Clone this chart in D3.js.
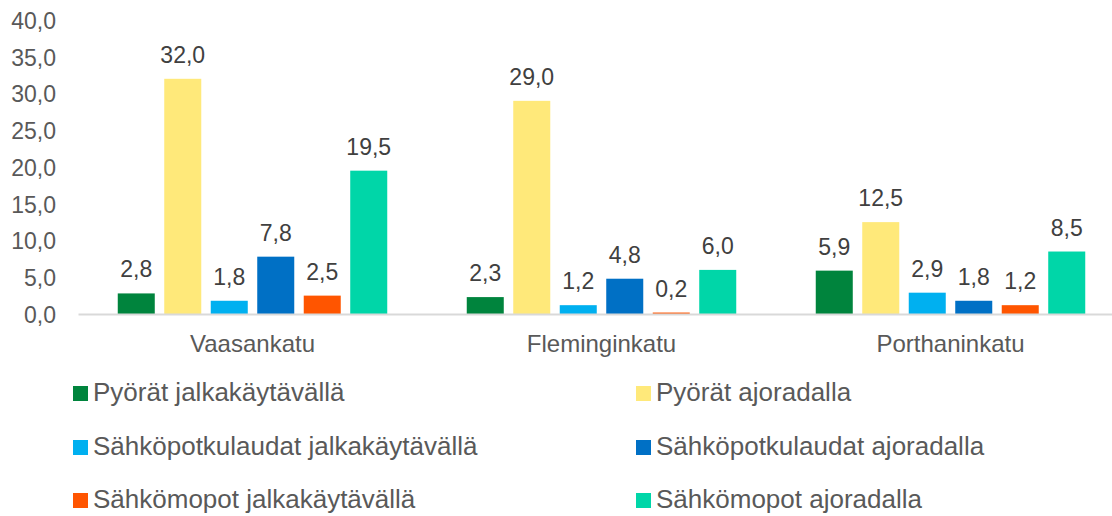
<!DOCTYPE html>
<html>
<head>
<meta charset="utf-8">
<script src="https://cdn.jsdelivr.net/npm/d3@7"></script>
<style>
  html, body { margin: 0; padding: 0; background: #fff; }
  svg { display: block; }
  text { font-family: "Liberation Sans", Arial, sans-serif; }
</style>
</head>
<body>
<svg id="chart" width="1112" height="516"></svg>
<script>
const categories = ["Vaasankatu", "Fleminginkatu", "Porthaninkatu"];
const seriesNames = [
  "Pyörät jalkakäytävällä",
  "Pyörät ajoradalla",
  "Sähköpotkulaudat jalkakäytävällä",
  "Sähköpotkulaudat ajoradalla",
  "Sähkömopot jalkakäytävällä",
  "Sähkömopot ajoradalla"
];
const seriesColors = ["#00843D", "#FFE97A", "#00B0F0", "#0070C5", "#FF5500", "#00D6A8"];
const pyoratJalka = [2.8, 2.3, 5.9];
const pyoratAjo = [32.0, 29.0, 12.5];
const potkuJalka = [1.8, 1.2, 2.9];
const potkuAjo = [7.8, 4.8, 1.8];
const mopotJalka = [2.5, 0.2, 1.2];
const mopotAjo = [19.5, 6.0, 8.5];
const seriesValues = [pyoratJalka, pyoratAjo, potkuJalka, potkuAjo, mopotJalka, mopotAjo];
const yTicks = [0, 5, 10, 15, 20, 25, 30, 35, 40];

const fmt = v => v.toFixed(1).replace(".", ",");
const svg = d3.select("#chart");

const x0 = d3.scaleBand().domain(categories).range([78, 1125]).paddingInner(0).paddingOuter(0);
const x1 = d3.scaleBand().domain(seriesNames).range([0, x0.bandwidth()]).paddingInner(0.204).paddingOuter(0.855);
const y = d3.scaleLinear().domain([0, 40]).range([314, 20]);

// y tick labels
const yAxis = d3.axisLeft(y).tickValues(yTicks).tickFormat(fmt).tickSize(0).tickPadding(0);
const yg = svg.append("g").attr("transform", "translate(56,0)").call(yAxis);
yg.select(".domain").remove();
yg.selectAll("text")
  .attr("fill", "#595959")
  .style("font-size", "23px")
  .style("font-family", "'Liberation Sans', Arial, sans-serif")
  .attr("dy", "0.36em");

// bars
const groups = svg.append("g").selectAll("g")
  .data(categories)
  .join("g")
  .attr("transform", d => `translate(${x0(d)},0)`);

groups.selectAll("rect")
  .data((c, ci) => seriesNames.map((s, si) => ({ s, si, v: seriesValues[si][ci] })))
  .join("rect")
  .attr("x", d => x1(d.s))
  .attr("y", d => y(d.v))
  .attr("width", x1.bandwidth())
  .attr("height", d => y(0) - y(d.v))
  .attr("fill", d => seriesColors[d.si]);

groups.selectAll("text.val")
  .data((c, ci) => seriesNames.map((s, si) => ({ s, si, v: seriesValues[si][ci] })))
  .join("text")
  .attr("class", "val")
  .attr("x", d => x1(d.s) + x1.bandwidth() / 2)
  .attr("y", d => y(d.v) - 16)
  .attr("text-anchor", "middle")
  .attr("fill", "#404040")
  .style("font-size", "23px")
  .text(d => fmt(d.v));

// x axis line + category labels
const xAxis = d3.axisBottom(x0).tickSize(0).tickPadding(0);
const xg = svg.append("g").attr("transform", `translate(0,${y(0)})`).call(xAxis);
xg.select(".domain").attr("stroke", "#d9d9d9").attr("stroke-width", 2);
xg.selectAll("text")
  .attr("fill", "#595959")
  .style("font-size", "24px")
  .style("font-family", "'Liberation Sans', Arial, sans-serif")
  .attr("y", 38)
  .attr("dy", 0);

// legend
const legendCols = [73, 636];
const legendRows = [401, 455, 508];
const legend = svg.append("g").selectAll("g")
  .data(seriesNames)
  .join("g")
  .attr("transform", (d, i) => `translate(${legendCols[i % 2]},${legendRows[Math.floor(i / 2)]})`);
legend.append("rect")
  .attr("x", 0).attr("y", -15).attr("width", 15).attr("height", 15)
  .attr("fill", (d, i) => seriesColors[i]);
legend.append("text")
  .attr("x", 20).attr("y", 0)
  .attr("fill", "#595959")
  .style("font-size", "26px")
  .text(d => d);
</script>
</body>
</html>
